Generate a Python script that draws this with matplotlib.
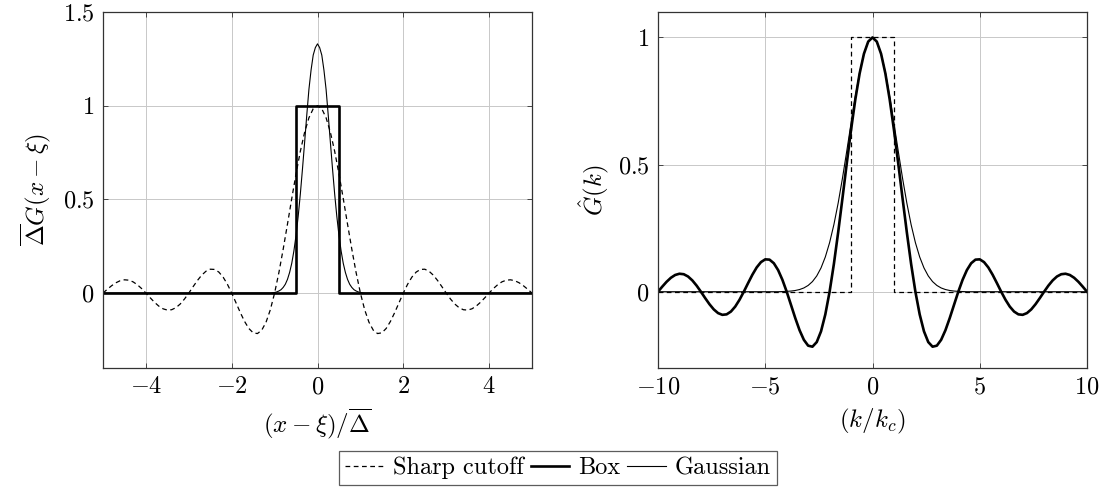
import numpy as np
import matplotlib
matplotlib.use("Agg")
import matplotlib.pyplot as plt

plt.rcParams['font.family'] = ['cmr10', 'DejaVu Serif']
plt.rcParams['mathtext.fontset'] = 'cm'
plt.rcParams['axes.formatter.use_mathtext'] = True
plt.rcParams['axes.unicode_minus'] = False

# ---------------- data ----------------
# Left panel: kernels in physical space, positive half (curves are symmetric)
x_half = [0.0, 0.1, 0.2, 0.3, 0.4, 0.5, 0.6, 0.7, 0.8, 0.9, 1.0,
          1.1, 1.2, 1.3, 1.4, 1.5, 1.6, 1.7, 1.8, 1.9, 2.0,
          2.1, 2.2, 2.3, 2.4, 2.5, 2.6, 2.7, 2.8, 2.9, 3.0,
          3.1, 3.2, 3.3, 3.4, 3.5, 3.6, 3.7, 3.8, 3.9, 4.0,
          4.1, 4.2, 4.3, 4.4, 4.5, 4.6, 4.7, 4.8, 4.9, 5.0]
sharp_half = [1.0, 0.9836, 0.9355, 0.8584, 0.7568, 0.6366, 0.5046, 0.3679, 0.2339, 0.1093, 0.0,
              -0.0894, -0.1559, -0.1981, -0.2162, -0.2122, -0.1892, -0.1515, -0.1039, -0.0518, 0.0,
              0.0468, 0.0850, 0.1120, 0.1261, 0.1273, 0.1164, 0.0954, 0.0668, 0.0339, 0.0,
              -0.0317, -0.0585, -0.0780, -0.0890, -0.0909, -0.0841, -0.0696, -0.0492, -0.0252, 0.0,
              0.0240, 0.0445, 0.0599, 0.0688, 0.0707, 0.0658, 0.0548, 0.0390, 0.0201, 0.0]

gauss_x_half = [0.0, 0.05, 0.1, 0.15, 0.2, 0.25, 0.3, 0.35, 0.4, 0.45, 0.5,
                0.55, 0.6, 0.65, 0.7, 0.75, 0.8, 0.85, 0.9, 0.95, 1.0, 1.1, 5.0]
gauss_half = [1.33, 1.31, 1.27, 1.19, 1.087, 0.950, 0.805, 0.663, 0.529, 0.410, 0.308,
              0.225, 0.159, 0.110, 0.073, 0.047, 0.030, 0.018, 0.011, 0.006, 0.003, 0.0, 0.0]

box_x = [-5.0, -0.5, -0.5, 0.5, 0.5, 5.0]
box_y = [0.0, 0.0, 1.0, 1.0, 0.0, 0.0]

# Right panel: transfer functions, positive half
k_half = [0.0, 0.2, 0.4, 0.6, 0.8, 1.0, 1.2, 1.4, 1.6, 1.8, 2.0,
          2.2, 2.4, 2.6, 2.8, 3.0, 3.2, 3.4, 3.6, 3.8, 4.0,
          4.2, 4.4, 4.6, 4.8, 5.0, 5.2, 5.4, 5.6, 5.8, 6.0,
          6.2, 6.4, 6.6, 6.8, 7.0, 7.2, 7.4, 7.6, 7.8, 8.0,
          8.2, 8.4, 8.6, 8.8, 9.0, 9.2, 9.4, 9.6, 9.8, 10.0]
box_hat_half = [1.0, 0.9836, 0.9355, 0.8584, 0.7568, 0.6366, 0.5046, 0.3679, 0.2339, 0.1093, 0.0,
                -0.0894, -0.1559, -0.1981, -0.2162, -0.2122, -0.1892, -0.1515, -0.1039, -0.0518, 0.0,
                0.0468, 0.0850, 0.1120, 0.1261, 0.1273, 0.1164, 0.0954, 0.0668, 0.0339, 0.0,
                -0.0317, -0.0585, -0.0780, -0.0890, -0.0909, -0.0841, -0.0696, -0.0492, -0.0252, 0.0,
                0.0240, 0.0445, 0.0599, 0.0688, 0.0707, 0.0658, 0.0548, 0.0390, 0.0201, 0.0]

gauss_k_half = [0.0, 0.2, 0.4, 0.6, 0.8, 1.0, 1.2, 1.4, 1.6, 1.8, 2.0,
                2.2, 2.4, 2.6, 2.8, 3.0, 3.2, 3.4, 3.6, 3.8, 4.0, 4.4, 10.0]
gauss_hat_half = [1.0, 0.9837, 0.9363, 0.8624, 0.7686, 0.6628, 0.5531, 0.4466, 0.3490, 0.2639, 0.1930,
                  0.1366, 0.0936, 0.0620, 0.0398, 0.0247, 0.0148, 0.0086, 0.0048, 0.0026, 0.0014, 0.0, 0.0]

sharp_hat_k = [-10.0, -1.0, -1.0, 1.0, 1.0, 10.0]
sharp_hat_y = [0.0, 0.0, 1.0, 1.0, 0.0, 0.0]

legend_labels = ['Sharp cutoff', 'Box', 'Gaussian']


def mirror(xh, yh):
    xh = np.asarray(xh)
    yh = np.asarray(yh)
    return np.concatenate([-xh[:0:-1], xh]), np.concatenate([yh[:0:-1], yh])


# ---------------- figure ----------------
fig = plt.figure(figsize=(11.07, 4.91), dpi=100)
axL = fig.add_axes([103 / 1107, 1 - 368 / 491, 429 / 1107, 356 / 491])
axR = fig.add_axes([658 / 1107, 1 - 368 / 491, 429 / 1107, 356 / 491])

dash = dict(color='black', lw=0.9, dashes=(3.8, 2.8))
thick = dict(color='black', lw=1.9)
thin = dict(color='black', lw=0.8)

xs, ys = mirror(x_half, sharp_half)
xg, yg = mirror(gauss_x_half, gauss_half)
l1, = axL.plot(xs, ys, **dash)
l3, = axL.plot(xg, yg, **thin)
l2, = axL.plot(box_x, box_y, **thick)

kb, yb = mirror(k_half, box_hat_half)
kg, ygh = mirror(gauss_k_half, gauss_hat_half)
axR.plot(sharp_hat_k, sharp_hat_y, **dash)
axR.plot(kg, ygh, **thin)
axR.plot(kb, yb, **thick)

axL.set_xlim(-5, 5)
axL.set_ylim(-0.4, 1.5)
axL.set_xticks([-4, -2, 0, 2, 4])
axL.set_yticks([0, 0.5, 1, 1.5])
axR.set_xlim(-10, 10)
axR.set_ylim(-0.3, 1.1)
axR.set_xticks([-10, -5, 0, 5, 10])
axR.set_yticks([0, 0.5, 1])

fmt = matplotlib.ticker.FuncFormatter(lambda v, p: r'$%g$' % v)
for ax in (axL, axR):
    ax.xaxis.set_major_formatter(fmt)
    ax.yaxis.set_major_formatter(fmt)
    ax.grid(True, color='#c8c8c8', lw=0.7)
    ax.set_axisbelow(True)
    ax.tick_params(direction='in', length=3.5, width=0.7, color='#444444',
                   top=True, right=True, labelsize=17.5, pad=6)
    for s in ax.spines.values():
        s.set_color('#333333')
        s.set_linewidth(0.9)

axL.set_xlabel(r'$(x-\xi)/\overline{\Delta}$', fontsize=18, labelpad=6)
axL.set_ylabel(r'$\overline{\Delta}G(x-\xi)$', fontsize=18, labelpad=7)
axR.set_xlabel(r'$(k/k_c)$', fontsize=18, labelpad=6)
axR.set_ylabel(r'$\hat{G}(k)$', fontsize=18, labelpad=4)

leg = fig.legend([l1, l2, l3], legend_labels, loc='center',
                 bbox_to_anchor=(558 / 1107, 1 - 468 / 491), ncol=3,
                 fontsize=17.5, frameon=True, fancybox=False, handlelength=1.6,
                 handletextpad=0.35, columnspacing=0.3, borderpad=0.25,
                 borderaxespad=0.0)
leg.get_frame().set_edgecolor('#333333')
leg.get_frame().set_linewidth(0.9)

fig.savefig('out.png', dpi=100)
